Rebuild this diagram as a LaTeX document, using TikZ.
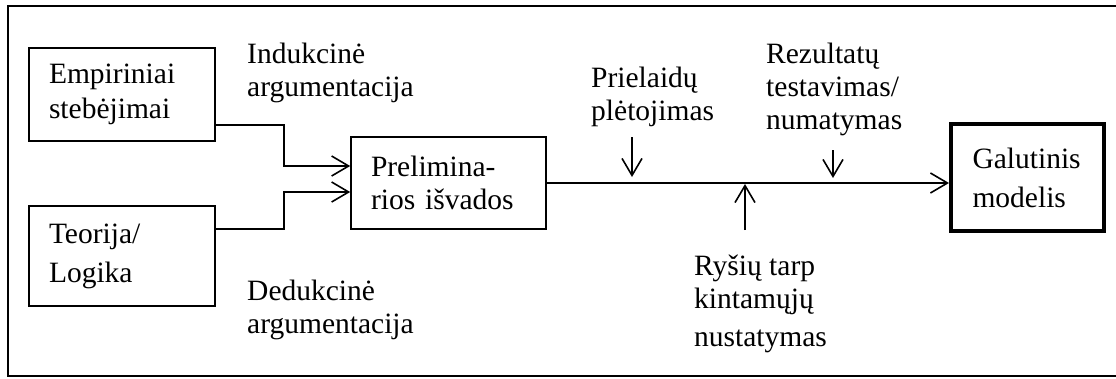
\documentclass[tikz,border=0pt]{standalone}
\usepackage{fontspec}
\setmainfont{Liberation Serif}
\usetikzlibrary{positioning,arrows.meta}

\begin{document}
\begin{tikzpicture}[x=1pt,y=-1pt,
    font=\fontsize{29.5}{33}\selectfont,
    box/.style={draw,line width=1.6pt,align=left,inner xsep=20pt,inner ysep=0pt},
    lbl/.style={anchor=base west,align=left,inner sep=0pt},
    barb/.style={line width=1.6pt,-{Straight Barb[length=17pt,width=20pt]}}]
        \useasboundingbox (0,0) rectangle (1116,378);
        \draw[line width=2pt] (1116,6) -- (8,6) -- (8,376) -- (1116,376);
        % boxes
        \node[box,minimum height=93pt,text width=146pt] (empirical) at (122,94.5) {Empiriniai\\[2pt]stebėjimai};
        \node[box,minimum height=100pt,text width=146pt] (theory) at (122,256) {Teorija/\\[6pt]Logika};
        \node[box,minimum height=92pt,text width=155pt] (prelim) at (448.5,183) {Prelimina-\\rios išvados};
        \node[box,line width=4pt,minimum height=107pt,text width=110pt,inner xsep=21.5pt] (final) at (1027.5,177.5) {Galutinis\\[6pt]modelis};
        % labels (anchored at the baseline of the last line)
        \node[lbl] (induction) at (247,96) {Indukcinė\\argumentacija};
        \node[lbl] (deduction) at (247,333) {Dedukcinė\\argumentacija};
        \node[lbl] (assumptions) at (591,120) {Prielaidų\\plėtojimas};
        \node[lbl] (testing) at (766,129) {Rezultatų\\testavimas/\\numatymas};
        \node[lbl] (relations) at (694,346) {Ryšių tarp\\kintamųjų\\[5pt]nustatymas};
        % arrow ends on the main line
        \coordinate (assume_top) at (632,137);
        \coordinate (assume_end) at (632,177);
        \coordinate (test_top) at (833,150);
        \coordinate (test_end) at (833,178);
        \coordinate (rel_bottom) at (745,230);
        \coordinate (rel_end) at (745,184);
        % connectors
        \draw[barb] ([yshift=17pt]empirical.south east) -- ++(68,0) |- ([yshift=17pt]prelim.west);
        \draw[barb] ([yshift=-24pt]theory.north east) -- ++(68,0) |- ([yshift=-9pt]prelim.west);
        \draw[barb] (prelim.east) -- (prelim.east -| final.west);
        \draw[barb] (assume_top) -- (assume_end);
        \draw[barb] (test_top) -- (test_end);
        \draw[barb] (rel_bottom) -- (rel_end);
    \end{tikzpicture}
\end{document}
